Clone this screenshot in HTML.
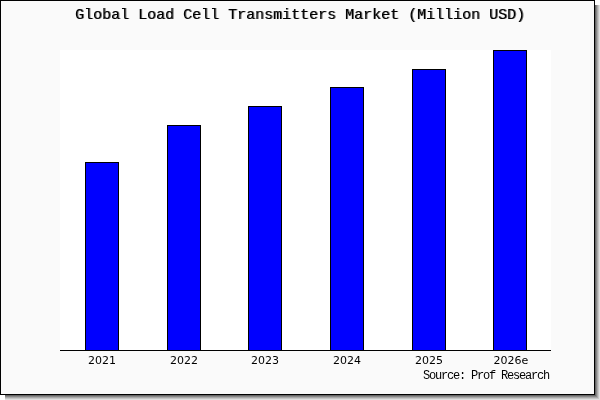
<!DOCTYPE html>
<html lang="en">
<head>
<meta charset="utf-8">
<title>Global Load Cell Transmitters Market (Million USD)</title>
<style>
  html, body { margin: 0; padding: 0; background: #ffffff; }
  body { width: 600px; height: 400px; position: relative; overflow: hidden; }
  .abs { position: absolute; }
  /* drop shadow stripes */
  .sh { position: absolute; }
  #frame { left: 0; top: 0; width: 593px; height: 393px; border: 1px solid #000; background: #fafafa; }
  #plot { left: 60px; top: 50px; width: 491px; height: 300px; background: #ffffff; }
  #axis { left: 60px; top: 350px; width: 491px; height: 1px; background: #000; }
  .bar { position: absolute; width: 32px; background: #0000ff; border: 1px solid #000; border-bottom: none; }
  #title {
    left: 75px; top: 7px; width: 450px; height: 18px; line-height: 18px;
    font-family: "Liberation Mono", "DejaVu Sans Mono", monospace; font-weight: normal; font-size: 15px;
    color: #000; white-space: pre; text-align: left; letter-spacing: 0; text-shadow: 1px 0 0 rgba(0,0,0,0.55);
  }
  .xl {
    position: absolute; top: 354px; width: 60px; height: 14px; line-height: 14px; text-align: center;
    font-family: "DejaVu Sans", "Liberation Sans", sans-serif; font-size: 11px; color: #000; white-space: pre;
  }
  #src {
    left: 423px; top: 369px; width: 164px; height: 14px; line-height: 14px;
    font-family: "Liberation Mono", "DejaVu Sans Mono", monospace; font-size: 12px;
    color: #000; white-space: pre; letter-spacing: -1.2px;
  }
</style>
</head>
<body>
  <!-- shadow: right side -->
  <div class="sh" style="left:595px;top:5px;width:1px;height:391px;background:#676767"></div>
  <div class="sh" style="left:596px;top:5px;width:1px;height:392px;background:#888888"></div>
  <div class="sh" style="left:597px;top:5px;width:1px;height:393px;background:#a9a9a9"></div>
  <div class="sh" style="left:598px;top:5px;width:1px;height:394px;background:#c6c6c6"></div>
  <div class="sh" style="left:599px;top:5px;width:1px;height:395px;background:#e0e0e0"></div>
  <!-- shadow: bottom side -->
  <div class="sh" style="left:5px;top:395px;width:591px;height:1px;background:#676767"></div>
  <div class="sh" style="left:5px;top:396px;width:592px;height:1px;background:#888888"></div>
  <div class="sh" style="left:5px;top:397px;width:593px;height:1px;background:#a9a9a9"></div>
  <div class="sh" style="left:5px;top:398px;width:594px;height:1px;background:#c6c6c6"></div>
  <div class="sh" style="left:5px;top:399px;width:595px;height:1px;background:#e0e0e0"></div>

  <div id="frame" class="abs"></div>
  <div id="plot" class="abs"></div>

  <div class="bar" style="left:85px;top:162px;height:188px"></div>
  <div class="bar" style="left:167px;top:125px;height:225px"></div>
  <div class="bar" style="left:248px;top:106px;height:244px"></div>
  <div class="bar" style="left:330px;top:87px;height:263px"></div>
  <div class="bar" style="left:412px;top:69px;height:281px"></div>
  <div class="bar" style="left:493px;top:50px;height:300px"></div>

  <div id="axis" class="abs"></div>

  <div id="title" class="abs">Global Load Cell Transmitters Market (Million USD)</div>

  <div class="xl" style="left:72px">2021</div>
  <div class="xl" style="left:154px">2022</div>
  <div class="xl" style="left:235px">2023</div>
  <div class="xl" style="left:317px">2024</div>
  <div class="xl" style="left:399px">2025</div>
  <div class="xl" style="left:481px">2026e</div>

  <div id="src" class="abs">Source: Prof Research</div>
</body>
</html>
